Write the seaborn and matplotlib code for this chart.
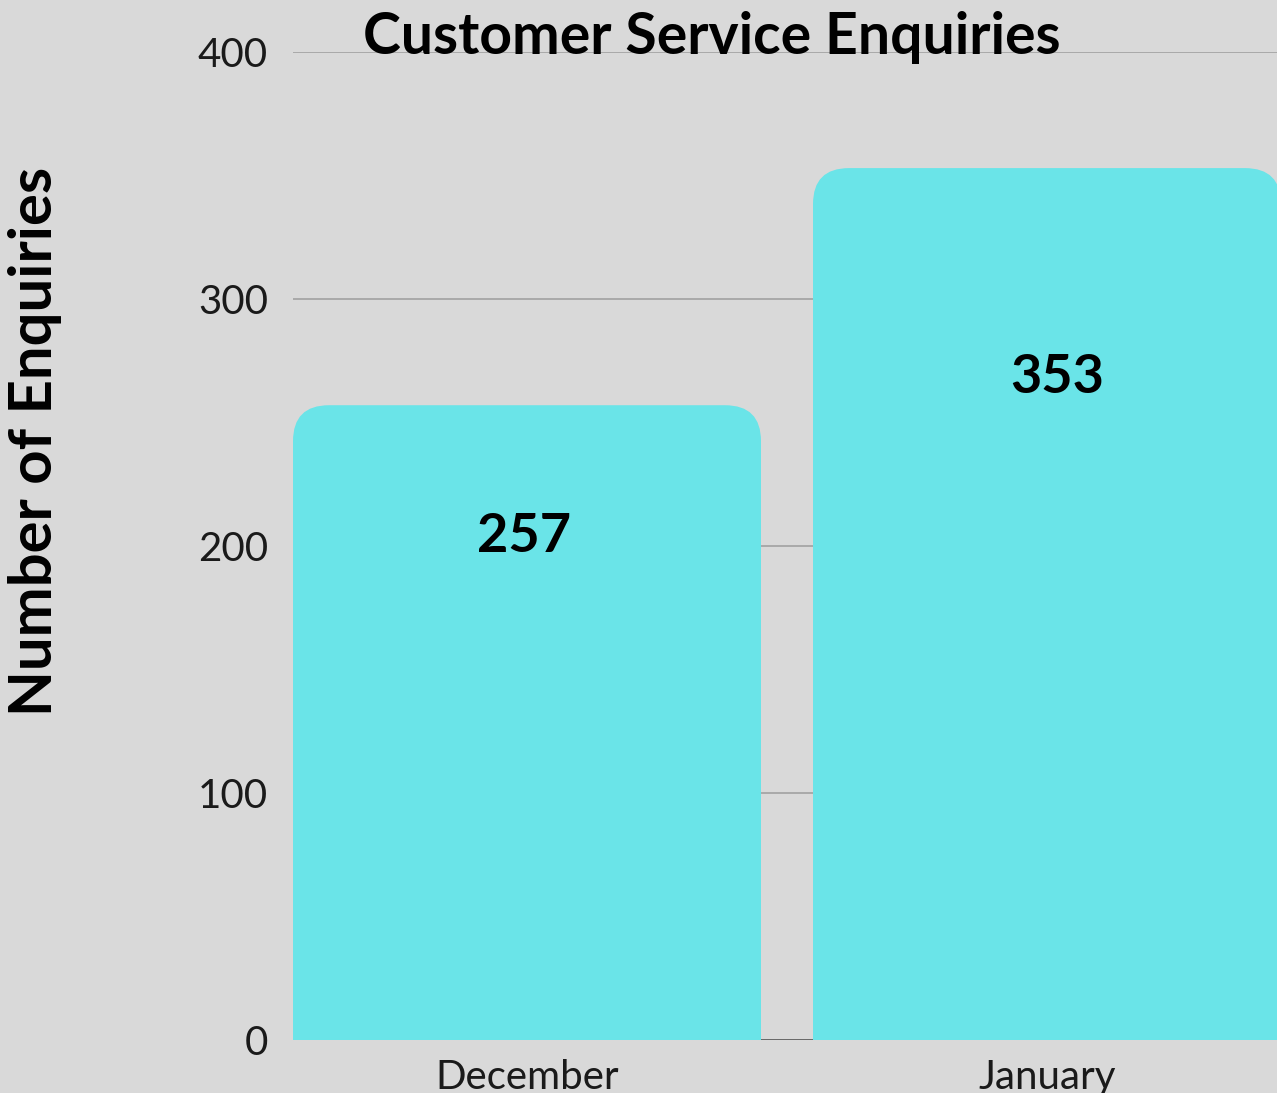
import matplotlib
matplotlib.use("Agg")
import matplotlib.pyplot as plt
import seaborn as sns
import pandas as pd
from matplotlib.patches import FancyBboxPatch

months = ["December", "January"]
enquiries = [257, 353]
yticks = [0, 100, 200, 300, 400]

BG = "#d9d9d9"
BAR = "#6ae4e8"

sns.set_theme(style="whitegrid")
plt.rcParams['font.family'] = ['Lato', 'DejaVu Sans']

W, H = 1277, 1093
fig = plt.figure(figsize=(W / 100, H / 100), dpi=100, facecolor=BG)
left, right = 293 / W, 1281 / W
bottom, top = 1 - 1040 / H, 1 - 52 / H
ax = fig.add_axes([left, bottom, right - left, top - bottom])
ax.set_facecolor(BG)

df = pd.DataFrame({"Month": months, "Enquiries": enquiries})
sns.barplot(data=df, x="Month", y="Enquiries", color=BAR, width=0.9,
            saturation=1, ax=ax, zorder=2)

ax.set_xlim(-0.45, 1.45)
ax.set_ylim(0, 400)
ax.set_yticks(yticks)
ax.set_yticklabels([str(t) for t in yticks])

# replace bars with rounded-top versions
px_per_x = (right - left) * W / 1.9
px_per_y = (top - bottom) * H / 400
r_px = 36
rx = r_px / px_per_x
aspect = (r_px / px_per_y) / rx
for p in list(ax.patches):
    x0, w, h = p.get_x(), p.get_width(), p.get_height()
    p.set_visible(False)
    fb = FancyBboxPatch((x0, -40), w, h + 40,
                        boxstyle=f"round,pad=0,rounding_size={rx}",
                        mutation_aspect=aspect, facecolor=BAR,
                        edgecolor="none", zorder=2)
    ax.add_patch(fb)
    ax.text(x0 + w / 2 + (-0.005 if h < 300 else 0.02), 0.671 * h + 31.2, f"{h:.0f}",
            ha="center", va="center", fontsize=39, fontweight="bold",
            color="black", zorder=3)

ax.grid(axis="y", color="#a6a6a6", linewidth=1.3, zorder=0)
ax.grid(axis="x", visible=False)
ax.axhline(0, color="#555555", linewidth=1.8, zorder=1)
for s in ax.spines.values():
    s.set_visible(False)
ax.tick_params(axis="both", length=0, labelsize=29, colors="#1a1a1a")
ax.tick_params(axis="x", pad=14)
ax.tick_params(axis="y", pad=18)
ax.set_xlabel("")
ax.set_ylabel("")

fig.text(712 / W, 1 - 37 / H, "Customer Service Enquiries", ha="center",
         va="center", fontsize=41, fontweight="bold", color="black")
fig.text(35 / W, 1 - 441 / H, "Number of Enquiries", ha="center",
         va="center", rotation=90, fontsize=43, fontweight="bold", color="black")

fig.savefig("out.png", dpi=100, facecolor=BG)
